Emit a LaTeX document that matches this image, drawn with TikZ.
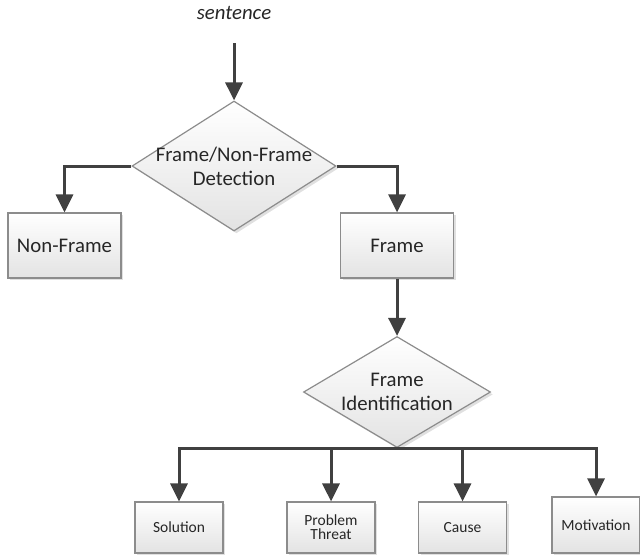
\documentclass[tikz,border=0pt]{standalone}
\usepackage{fontspec}
\setmainfont{Carlito}
\usetikzlibrary{arrows.meta,shapes.geometric,shadows}

\definecolor{linegray}{HTML}{404040}
\definecolor{edgegray}{HTML}{8C8C8C}

\tikzset{
  shade/.style={draw=edgegray, line width=0.6pt, top color=white, bottom color=black!11,
    drop shadow={shadow xshift=1.2pt, shadow yshift=-1.2pt, fill=black, opacity=0.12}},
  bigtext/.style={font=\fontsize{10.4}{12}\selectfont, text=black!85, align=center},
  smalltext/.style={font=\fontsize{7.75}{7}\selectfont, text=black!85, align=center},
  box/.style={shade, rectangle, inner sep=0pt, minimum width=56.5pt, minimum height=32.5pt, bigtext},
  smallbox/.style={shade, rectangle, inner sep=0pt, minimum width=44pt, minimum height=25.5pt, smalltext},
  decision/.style={shade, diamond, inner sep=0pt},
  flow/.style={draw=linegray, line width=1.5pt, -{Triangle[length=9pt,width=8.5pt]}}
}

\begin{document}
\begin{tikzpicture}[x=0.5pt, y=-0.5pt]
  \useasboundingbox (0,0) rectangle (640,559);

  \node[bigtext, font=\fontsize{10.4}{12}\selectfont\itshape] (sent) at (234,13) {sentence};
  \coordinate (start) at (234,43);

  \node[decision, minimum width=102pt, minimum height=65pt,
    label={[bigtext]center:Frame/Non-Frame\\Detection}] (detect) at (234,166) {};
  \node[box] (nonframe) at (64.5,245.5) {Non-Frame};
  \node[box] (frame) at (397,245.5) {Frame};

  \node[decision, minimum width=93.5pt, minimum height=55.5pt,
    label={[bigtext]center:Frame\\Identification}] (ident) at (397,392) {};

  % frame types
  \node[smallbox] (solution) at (179,527.5) {Solution};
  \node[smallbox] (problem) at (331,527.5) {Problem\\Threat};
  \node[smallbox] (cause) at (462.5,527.5) {Cause};
  \node[smallbox, minimum height=28pt] (motivation) at (596,525) {Motivation};

  \draw[flow] (start) -- (detect.north);
  \draw[flow] (detect.west) -| (nonframe.north);
  \draw[flow] (detect.east) -| (frame.north);
  \draw[flow] (frame.south) -- (ident.north);
  \foreach \b in {solution,problem,cause,motivation}
    \draw[flow] (ident.south) -| (\b.north);
\end{tikzpicture}
\end{document}
